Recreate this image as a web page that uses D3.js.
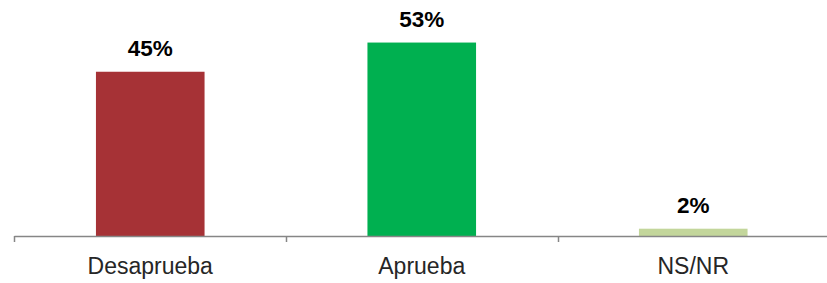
<!DOCTYPE html>
<html>
<head>
<meta charset="utf-8">
<script src="https://cdn.jsdelivr.net/npm/d3@7"></script>
<style>
  body { margin: 0; background: #fff; }
  svg { display: block; font-family: "Liberation Sans", Arial, sans-serif; }
</style>
</head>
<body>
<div id="chart"></div>
<script>
const categories = ["Desaprueba", "Aprueba", "NS/NR"];
const values = [45, 53, 2];
const colors = ["#a63236", "#00b050", "#c3d69b"];

const width = 827;
const height = 283;

const svg = d3.select("#chart")
    .append("svg")
    .attr("width", width)
    .attr("height", height);

// scales
const x = d3.scaleBand()
    .domain(categories)
    .range([14.5, 829])
    .paddingInner(0.6)
    .paddingOuter(0.3);

const y = d3.scaleLinear()
    .domain([0, 60])
    .range([236, 17]);

// bars
svg.selectAll("rect")
    .data(values)
    .enter()
    .append("rect")
    .attr("x", (d, i) => x(categories[i]))
    .attr("y", d => y(d))
    .attr("width", x.bandwidth())
    .attr("height", d => y(0) - y(d))
    .attr("fill", (d, i) => colors[i]);

// value labels
svg.selectAll(".val")
    .data(values)
    .enter()
    .append("text")
    .attr("class", "val")
    .attr("x", (d, i) => x(categories[i]) + x.bandwidth() / 2)
    .attr("y", d => y(d) - 16)
    .attr("text-anchor", "middle")
    .attr("font-size", 22.5)
    .attr("font-weight", "bold")
    .attr("fill", "#000")
    .text(d => d + "%");

// axis line + ticks between categories
const step = x.step();
const x0 = x(categories[0]) - step * 0.3;
const ticks = d3.range(categories.length + 1).map(i => x0 + i * step);

svg.append("line")
    .attr("x1", x0).attr("x2", width)
    .attr("y1", y(0) + 0.5).attr("y2", y(0) + 0.5)
    .attr("stroke", "#868686")
    .attr("stroke-width", 1.5);

svg.selectAll(".tick")
    .data(ticks)
    .enter()
    .append("line")
    .attr("x1", d => Math.round(d) + 0.5)
    .attr("x2", d => Math.round(d) + 0.5)
    .attr("y1", y(0))
    .attr("y2", y(0) + 6)
    .attr("stroke", "#868686")
    .attr("stroke-width", 1.5);

// category labels
svg.selectAll(".cat")
    .data(categories)
    .enter()
    .append("text")
    .attr("class", "cat")
    .attr("x", d => x(d) + x.bandwidth() / 2)
    .attr("y", 274)
    .attr("text-anchor", "middle")
    .attr("font-size", 23)
    .attr("fill", "#262626")
    .text(d => d);
</script>
</body>
</html>
